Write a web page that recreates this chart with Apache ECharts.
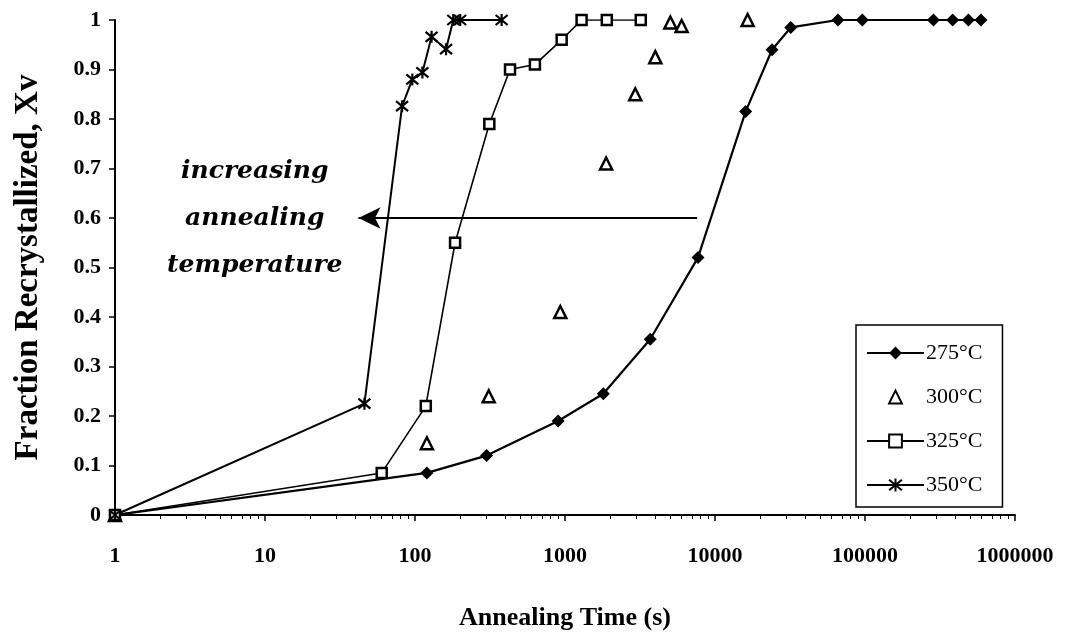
<!DOCTYPE html>
<html>
<head>
<meta charset="utf-8">
<script src="https://cdn.jsdelivr.net/npm/echarts@6/dist/echarts.min.js"></script>
<style>
  html, body { margin: 0; padding: 0; background: #fff; }
  #chart { width: 1065px; height: 640px; }
</style>
</head>
<body>
<div id="chart"></div>
<script>
// annealing time (s) and fraction recrystallized
const t275 = [1, 120, 300, 900, 1800, 3700, 7700, 16000, 24000, 32000, 66000, 96000, 286000, 384000, 489000, 593000];
const x275 = [0, 0.085, 0.12, 0.19, 0.245, 0.355, 0.52, 0.815, 0.94, 0.985, 1, 1, 1, 1, 1, 1];

const t300 = [1, 120, 310, 930, 1880, 2940, 4000, 5040, 5990, 16500];
const x300 = [0, 0.145, 0.24, 0.41, 0.71, 0.85, 0.925, 0.995, 0.988, 1];

const t325 = [1, 60, 118, 185, 313, 430, 630, 950, 1290, 1900, 3200];
const x325 = [0, 0.085, 0.22, 0.55, 0.79, 0.9, 0.91, 0.96, 1, 1, 1];

const t350 = [1, 46, 82, 96, 112, 129, 161, 180, 200, 378];
const x350 = [0, 0.225, 0.826, 0.88, 0.894, 0.966, 0.941, 1, 1, 1];

const seriesNames = ['275°C', '300°C', '325°C', '350°C'];
const yTicks = [0, 0.1, 0.2, 0.3, 0.4, 0.5, 0.6, 0.7, 0.8, 0.9, 1];

// arrow "increasing annealing temperature"
const arrowFrom = [7600, 0.6];
const arrowTo = [42, 0.6];

const pairs = (ts, xs) => ts.map((t, i) => [t, xs[i]]);
const serif = 'Liberation Serif';
const asterisk = 'path://M0,0L10,10M10,0L0,10M5,-1L5,11';

const chart = echarts.init(document.getElementById('chart'));
chart.setOption({
  animation: false,
  grid: { left: 115, right: 50, top: 20, bottom: 125 },
  legend: {
    data: seriesNames,
    orient: 'vertical',
    left: 856,
    top: 325,
    padding: [17, 20, 11, 10],
    itemWidth: 57,
    itemHeight: 16,
    itemGap: 22,
    borderColor: '#000',
    borderWidth: 1.5,
    textStyle: { fontFamily: serif, fontSize: 22, color: '#000', padding: [0, 0, 0, -3] }
  },
  xAxis: {
    type: 'log',
    logBase: 10,
    min: 1,
    max: 1000000,
    name: 'Annealing Time (s)',
    nameLocation: 'middle',
    nameGap: 90,
    nameTextStyle: { fontFamily: serif, fontWeight: 'bold', fontSize: 26, color: '#000' },
    axisLine: { lineStyle: { color: '#000', width: 2 } },
    axisTick: { show: true, length: 6, lineStyle: { color: '#000', width: 1.5 } },
    minorTick: { show: true, splitNumber: 9, length: 4, lineStyle: { color: '#000', width: 1 } },
    splitLine: { show: false },
    axisLabel: {
      margin: 30,
      fontFamily: serif, fontWeight: 'bold', fontSize: 22, color: '#000',
      formatter: v => String(Math.round(v))
    }
  },
  yAxis: {
    type: 'value',
    min: yTicks[0],
    max: yTicks[yTicks.length - 1],
    interval: 0.1,
    name: 'Fraction Recrystallized, Xv',
    nameLocation: 'middle',
    nameGap: 66,
    nameTextStyle: { fontFamily: serif, fontWeight: 'bold', fontSize: 33, color: '#000', padding: [0, 0, 4, 0] },
    axisLine: { show: true, lineStyle: { color: '#000', width: 2 } },
    axisTick: { show: true, length: 6, lineStyle: { color: '#000', width: 1.5 } },
    splitLine: { show: false },
    axisLabel: {
      margin: 14,
      fontFamily: serif, fontWeight: 'bold', fontSize: 22, color: '#000',
      formatter: v => String(Math.round(v * 10) / 10)
    }
  },
  graphic: [{
    type: 'text',
    left: 167,
    top: 148,
    style: {
      text: 'increasing\nannealing\ntemperature',
      font: 'italic bold 25px "DejaVu Serif"',
      fill: '#000',
      textAlign: 'center',
      lineHeight: 47,
      width: 172
    }
  }],
  series: [
    {
      name: seriesNames[0],
      type: 'line',
      data: pairs(t275, x275),
      symbol: 'diamond',
      symbolSize: 13,
      itemStyle: { color: '#000' },
      lineStyle: { color: '#000', width: 2.2 },
      markLine: {
        silent: true,
        symbol: ['none', 'arrow'],
        symbolSize: [16, 22],
        label: { show: false },
        lineStyle: { color: '#000', width: 2, type: 'solid' },
        data: [[{ coord: arrowFrom }, { coord: arrowTo }]]
      }
    },
    {
      name: seriesNames[1],
      type: 'line',
      data: pairs(t300, x300),
      symbol: 'triangle',
      symbolSize: 12,
      itemStyle: { color: '#fff', borderColor: '#000', borderWidth: 2.5, opacity: 1 },
      lineStyle: { width: 0, opacity: 0 }
    },
    {
      name: seriesNames[2],
      type: 'line',
      data: pairs(t325, x325),
      symbol: 'rect',
      symbolSize: 10,
      itemStyle: { color: '#fff', borderColor: '#000', borderWidth: 2.5 },
      lineStyle: { color: '#000', width: 1.6 }
    },
    {
      name: seriesNames[3],
      type: 'line',
      data: pairs(t350, x350),
      symbol: asterisk,
      symbolSize: 12,
      itemStyle: { color: '#000', borderColor: '#000', borderWidth: 2.2 },
      lineStyle: { color: '#000', width: 2 }
    }
  ]
});
</script>
</body>
</html>
